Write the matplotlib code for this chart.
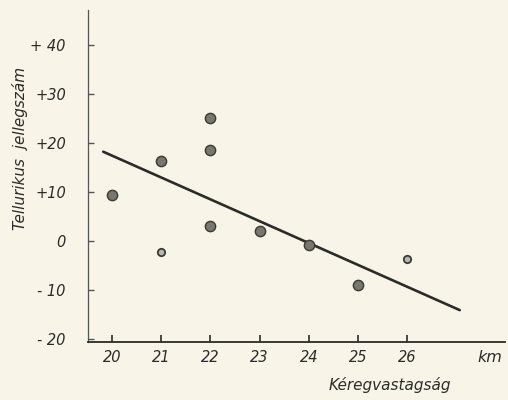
import matplotlib
matplotlib.use("Agg")
import matplotlib.pyplot as plt

# data
filled_x = [20, 21, 22, 22, 22, 23, 24, 25]
filled_y = [9.4, 16.3, 25.1, 18.6, 3.1, 2.0, -0.8, -9.0]
open_x = [21, 26]
open_y = [-2.2, -3.7]
line_x = [19.82, 27.07]
line_y = [18.2, -14.1]
xticks = [20, 21, 22, 23, 24, 25, 26]
yticks = [-20, -10, 0, 10, 20, 30, 40]
ytick_labels = ["- 20", "- 10", "0", "+10", "+20", "+30", "+ 40"]

bg = "#f8f5e8"
ink = "#2b2b2b"

fig = plt.figure(figsize=(5.08, 4.0), dpi=100, facecolor=bg)
ax = fig.add_axes([88/508, 58/400, 417/508, 332/400], facecolor=bg)

ax.plot(line_x, line_y, color=ink, lw=1.9, solid_capstyle="round")
ax.scatter(filled_x, filled_y, s=55, color="#77776f", edgecolor="#3a3a36", linewidth=1.0, zorder=3)
ax.scatter(open_x, open_y, s=28, color="#b8b8ae", edgecolor="#3a3a36", linewidth=1.3, zorder=3)

ax.set_xlim(19.51, 27.99)
ax.set_ylim(-20.6, 47.1)

for s in ["top", "right"]:
    ax.spines[s].set_visible(False)
ax.spines["left"].set_color("#555")
ax.spines["left"].set_linewidth(0.9)
ax.spines["bottom"].set_color(ink)
ax.spines["bottom"].set_linewidth(1.3)

tf = dict(fontsize=10.5, style="italic", color=ink)
ax.set_xticks(xticks)
ax.set_xticklabels([str(v) for v in xticks], **tf)
ax.set_yticks(yticks)
ax.set_yticklabels(ytick_labels, **tf)
ax.tick_params(axis="x", direction="in", length=5, width=1.2, color=ink, pad=6)
ax.tick_params(axis="y", direction="in", length=4, width=1.0, color="#555", pad=16)

fig.text(490/508, 1 - 357/400, "km", ha="center", va="center",
         fontsize=11.5, style="italic", color=ink)
fig.text(390/508, 1 - 385/400, "Kéregvastagság", ha="center", va="center",
         fontsize=11, style="italic", color=ink)
fig.text(20/508, 1 - 148/400, "Tellurikus  jellegszám", ha="center", va="center",
         rotation=90, fontsize=11, style="italic", color=ink)

fig.savefig("out.png", dpi=100, facecolor=bg)
